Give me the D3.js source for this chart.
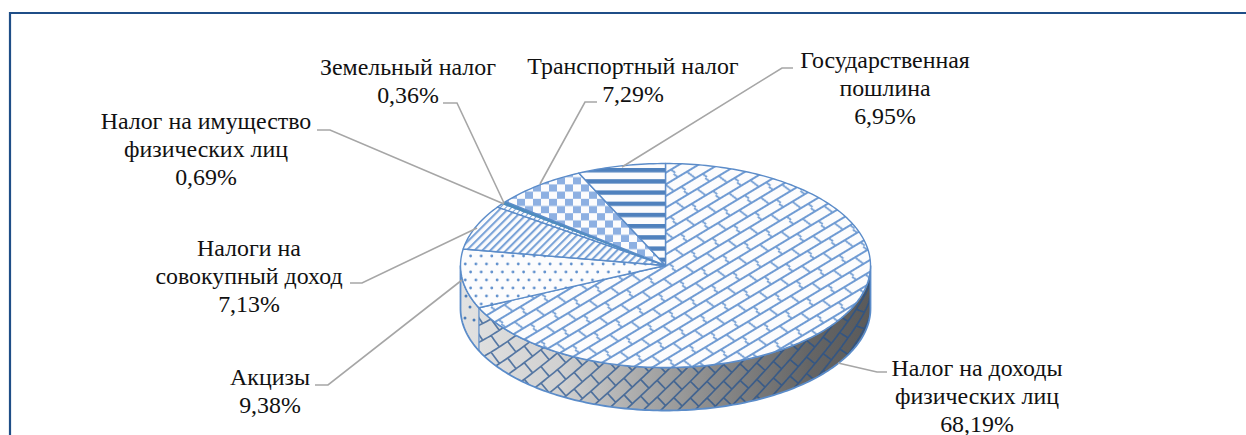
<!DOCTYPE html>
<html lang="ru">
<head>
<meta charset="utf-8">
<script src="https://cdn.jsdelivr.net/npm/d3@7"></script>
<style>
html,body{margin:0;padding:0;background:#fff;overflow:hidden}
svg{display:block}
text{font-family:"Liberation Serif",serif;font-size:23.9px;fill:#111;text-anchor:middle}
</style>
</head>
<body>
<svg id="c" width="1246" height="435"></svg>
<script>
// Data (clockwise from 12 o'clock)
const categories = [
  ["Налог на доходы","физических лиц"],
  ["Акцизы"],
  ["Налоги на","совокупный доход"],
  ["Налог на имущество","физических лиц"],
  ["Земельный налог"],
  ["Транспортный налог"],
  ["Государственная","пошлина"]
];
const shares = [68.19, 9.38, 7.13, 0.69, 0.36, 7.29, 6.95];
const shareLabels = ["68,19%","9,38%","7,13%","0,69%","0,36%","7,29%","6,95%"];

// Layout (kept apart from the data)
const W = 1246, H = 435;
const cx = 665.5, cy = 265.5, rx = 205, ry = 102, depth = 43;
const labelPos = [[977,375.5],[270,385],[249,256],[206,129],[408,75],[633,74],[885,68]];
const lineStep = 28;
const leaders = [
  [[838,363],[877,372],[887,372]],
  [[462,280],[328,385],[315,385]],
  [[477,228],[362,283],[350,283]],
  [[504,204],[330,130],[317,130]],
  [[504,203],[457,103],[443,103]],
  [[540,184],[585,102],[597,102]],
  [[622,167],[782,68],[793,68]]
];
const fills = ["url(#pBrick)","url(#pDots)","url(#pDiag)","url(#pDiagFine)","#4e8dbd","url(#pCheck)","url(#pStripe)"];
const blue = "#5b8cc9";

const svg = d3.select("#c");
const defs = svg.append("defs");

// patterns
function pat(id,w,h,tf){
  const p = defs.append("pattern").attr("id",id).attr("patternUnits","userSpaceOnUse")
    .attr("width",w).attr("height",h);
  if(tf) p.attr("patternTransform",tf);
  p.append("rect").attr("width",w).attr("height",h).attr("fill","#fcfcfd");
  return p;
}
let p = pat("pBrick",25,20,"translate(680,170) rotate(-31)");
p.append("path").attr("fill","none").attr("stroke","#6f9bd3").attr("stroke-width",1.8)
  .attr("d","M0,5H25M0,15H25M5,5L9,15M17.5,15L19.5,20M17.5,0L19.5,5");
p = pat("pCheck",16,14.4,"translate(533,170)");
p.append("path").attr("fill","#8db0e2").attr("d","M0,0h8v7.2h-8zM8,7.2h8v7.2h-8z");
p = pat("pStripe",12,11.2,"translate(0,168)");
p.append("rect").attr("width",12).attr("height",4.4).attr("fill","#4f81bd");
p = pat("pDiag",5.6,5.6,"rotate(-45) translate(0,2)");
p.append("rect").attr("width",5.6).attr("height",2.1).attr("fill","#7aa3d8");
p = pat("pDiagFine",4,4,"rotate(-45)");
p.append("rect").attr("width",4).attr("height",1).attr("fill","#6e9bd3");
p = pat("pDots",10.6,16,"translate(468,252)");
p.selectAll("circle").data([[2.6,4],[7.9,12]]).join("circle")
  .attr("cx",d=>d[0]).attr("cy",d=>d[1]).attr("r",1.4).attr("fill","#5f8fcc");

// side gradient
const grad = defs.append("linearGradient").attr("id","gSide").attr("gradientUnits","userSpaceOnUse")
  .attr("x1",cx-rx).attr("x2",cx+rx).attr("y1",0).attr("y2",0);
[[0,"#e2e2e2"],[.25,"#d0d0d0"],[.45,"#a8a8a8"],[.65,"#858585"],[.85,"#656565"],[1,"#5a5a5a"]]
  .forEach(s=>grad.append("stop").attr("offset",s[0]).attr("stop-color",s[1]));
defs.append("filter").attr("id","soft").attr("x","-5%").attr("y","-5%").attr("width","110%").attr("height","110%")
  .append("feGaussianBlur").attr("stdDeviation",0.5);

// frame
svg.append("path").attr("d",`M${10},${H}V${13}H${W}`).attr("fill","none")
  .attr("stroke","#1f4e87").attr("stroke-width",2.2);

// pie layout through D3
const pie = d3.pie().sort(null).value(d=>d);
const arcs = pie(shares);
const px = d3.scaleLinear().domain([-1,1]).range([cx-rx,cx+rx]);
const py = d3.scaleLinear().domain([-1,1]).range([cy+ry,cy-ry]);
const pt = (a,dy=0)=>[px(Math.sin(a)),py(Math.cos(a))+dy];
const sweep = (a0,a1,dy=0)=>{
  const n = Math.max(2,Math.ceil(Math.abs(a1-a0)/0.02));
  return d3.range(n+1).map(i=>pt(a0+(a1-a0)*i/n,dy));
};
const line = d3.line();

// side wall: visible part only (3 o'clock round to 9 o'clock)
const visA = Math.PI/2, visB = 3*Math.PI/2;
function wall(a0,a1){
  return line(sweep(a0,a1).concat(sweep(a1,a0,depth)))+"Z";
}
const sideG = svg.append("g");
const wallPath = wall(visA,visB);
sideG.append("path").attr("d",wallPath).attr("fill","url(#gSide)");

// brick lattice laid on the wall: planar in x, partly following the ellipse in y
const A = arcs[0].endAngle, phi = 44*Math.PI/180, bl = 23, bh = 12, follow = 0.45;
function wallPt(a,b){
  const u = a*Math.cos(phi)-b*Math.sin(phi), h = a*Math.sin(phi)+b*Math.cos(phi);
  const t = Math.max(-1,Math.min(1,u/rx));
  return [px(t), cy+ry*follow*Math.sqrt(1-t*t)+ry*(1-follow)+depth*0.5 - h];
}
const seg = [];
for(let r=-36;r<=36;r++){
  const b=r*bh;
  seg.push(line(d3.range(-110,111).map(i=>wallPt(i*3.5,b))));
  for(let c=-20;c<=20;c++){
    const a=(c+(r%2?0.5:0))*bl;
    seg.push(line(d3.range(0,6).map(i=>wallPt(a,b+i*bh/5))));
  }
}
defs.append("clipPath").attr("id","ndflClip").append("path").attr("d",wall(visA,A));
sideG.append("path").attr("clip-path","url(#ndflClip)").attr("d",seg.join(""))
  .attr("fill","none").attr("stroke","#23528f").attr("stroke-opacity",.72).attr("stroke-width",1.7).attr("filter","url(#soft)");

// Dotted piece of the wall (Акцизы)
const dotsWall = [[466,296],[474,290],[470,307],[478,305],[465,318],[474,320]];
sideG.selectAll("circle.w").data(dotsWall).join("circle").attr("class","w")
  .attr("cx",d=>d[0]).attr("cy",d=>d[1]).attr("r",1.5).attr("fill","#4b7cb8");
sideG.append("path").attr("d",wallPath).attr("fill","none").attr("stroke",blue).attr("stroke-width",1.8);
sideG.append("path").attr("d",line([pt(A),pt(A,depth)])).attr("stroke",blue).attr("stroke-width",1.2);

// top face slices
svg.append("g").selectAll("path").data(arcs).join("path")
  .attr("d",d=>line([[cx,cy]].concat(sweep(d.startAngle,d.endAngle)))+"Z")
  .attr("fill",(d,i)=>fills[i])
  .attr("stroke",(d,i)=>i===4?"#4e8dbd":blue).attr("stroke-width",1.4).attr("stroke-linejoin","round")
  .attr("filter","url(#soft)");

// leader lines
svg.append("g").selectAll("path").data(leaders).join("path")
  .attr("d",d=>line(d)).attr("fill","none").attr("stroke","#a6a6a6").attr("stroke-width",1.6);

// labels
const lab = svg.append("g").selectAll("text").data(categories).join("text")
  .attr("x",(d,i)=>labelPos[i][0]).attr("y",(d,i)=>labelPos[i][1]);
lab.selectAll("tspan").data((d,i)=>d.concat(shareLabels[i]).map(t=>({t,i}))).join("tspan")
  .attr("x",d=>labelPos[d.i][0]).attr("dy",(d,j)=>j?lineStep:0).text(d=>d.t);
</script>
</body>
</html>
